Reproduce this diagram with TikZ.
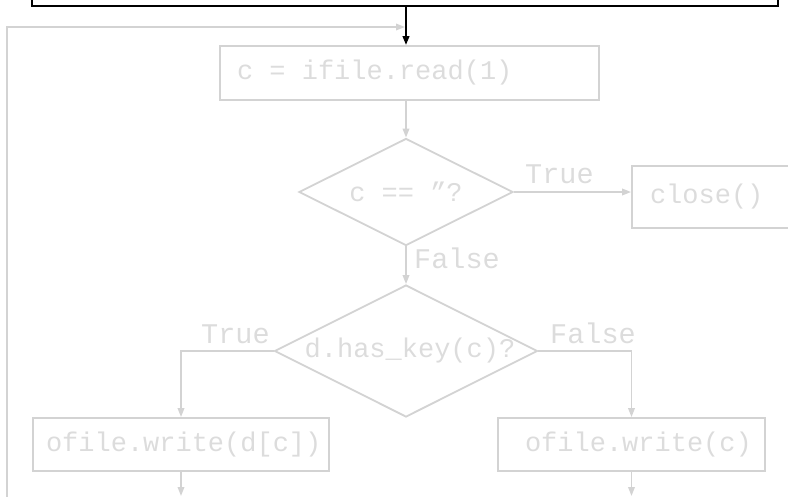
\documentclass[tikz,border=0pt]{standalone}
\usepackage{fontspec}
\setmonofont{Liberation Mono}
\usetikzlibrary{shapes.geometric,arrows.meta}
\definecolor{flowline}{RGB}{211,211,211}
\definecolor{flowtext}{RGB}{220,220,220}
% left-aligned text in a slot of fixed width
\newcommand\slot[2]{\makebox[#1][l]{#2}}
\begin{document}
\begin{tikzpicture}[x=1pt,y=-1pt,
  every node/.style={font=\ttfamily\fontsize{27}{30}\selectfont, text=flowtext},
  stepbox/.style={draw=flowline, line width=1.8pt, rectangle, inner ysep=0pt},
  decision/.style={draw=flowline, line width=1.8pt, diamond, inner sep=0pt},
  flow/.style={draw=flowline, line width=1.8pt, -{Triangle[length=9pt,width=6.5pt]}},
  branch/.style={font=\ttfamily\fontsize{28.5}{30}\selectfont, inner sep=0pt, anchor=base west},
]
\useasboundingbox (0,0) rectangle (788,496);
\clip (0,0) rectangle (788,496);

% previous step, only its lower edge is in view
\node[draw=black, line width=2.2pt, minimum width=746pt, minimum height=60pt] (prev) at (405,-24) {};

% steps and decisions
\node[stepbox, minimum height=54pt, inner xsep=17pt] (read) at (409.5,73) {\slot{345pt}{c = ifile.read(1)}};
\node[decision, minimum width=214pt, minimum height=107pt] (q1) at (406,192) {};
\node (q1text) at (q1.center) {c == ”?};
\node[stepbox, minimum height=62pt, inner xsep=18pt] (close) at (717,197) {\slot{134pt}{close()}};
\node[decision, minimum width=263pt, minimum height=132pt] (q2) at (406,351) {};
\node (q2text) at ([xshift=4pt]q2.center) {d.has\_key(c)?};
\node[stepbox, minimum height=53pt, inner xsep=13pt] (w1) at (181,444.5) {\slot{270pt}{ofile.write(d[c])}};
\node[stepbox, minimum height=53pt, inner xsep=27pt] (w2) at (631.5,444.5) {\slot{213pt}{ofile.write(c)}};

% free ends
\coordinate (bottom) at (0,496);
\coordinate (loopfoot) at (7,500);
\coordinate (loophead) at (405,27);

% connectors
\draw[flow, draw=black, line width=2.2pt] (prev.south -| q1.north) -- (read.north -| q1.north);
\draw[flow] (loopfoot) |- (loophead);
\draw[flow] (read.south -| q1.north) -- (q1.north);
\draw[flow] (q1.east) -- (q1.east -| close.west);
\draw[flow] (q1.south) -- (q2.north);
\draw[flow] (q2.west) -| (w1.north);
\draw[flow] (q2.east) -| (w2.north);
\draw[flow] (w1.south) -- (w1.south |- bottom);
\draw[flow] (w2.south) -- (w2.south |- bottom);

% branch labels
\node[branch] (q1true) at (525,183) {True};
\node[branch] (q1false) at (414,268) {False};
\node[branch] (q2true) at (201,343) {True};
\node[branch] (q2false) at (550,343) {False};
\end{tikzpicture}
\end{document}
